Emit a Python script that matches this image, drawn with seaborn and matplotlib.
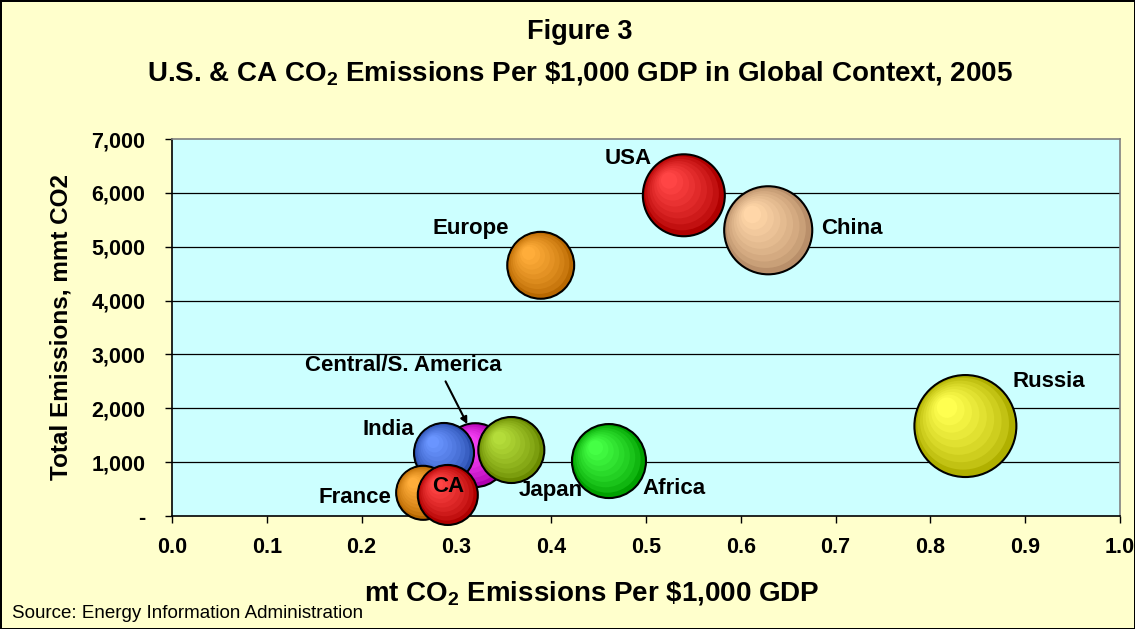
import matplotlib
matplotlib.use("Agg")
import matplotlib.pyplot as plt
import matplotlib.transforms as mtransforms
from matplotlib.colors import to_rgb
import numpy as np
import pandas as pd
import seaborn as sns

# data (draw order = list order)
regions = ["USA", "China", "Europe", "Russia", "Africa", "Central/S. America",
           "India", "Japan", "France", "CA"]
co2_per_gdp = [0.540, 0.629, 0.389, 0.837, 0.461, 0.320, 0.287, 0.358, 0.265, 0.291]
total_emissions = [5955, 5305, 4655, 1670, 1020, 1130, 1170, 1225, 430, 390]
bubble_size = [16.8, 19.4, 11.2, 26.0, 13.7, 10.2, 9.0, 10.9, 7.3, 9.0]

x_ticks = [0.0, 0.1, 0.2, 0.3, 0.4, 0.5, 0.6, 0.7, 0.8, 0.9, 1.0]
y_ticks = [0, 1000, 2000, 3000, 4000, 5000, 6000, 7000]

# styling: (dark rim, light highlight) per bubble
shades = {
    "USA": ("#b00000", "#ff4545"),
    "China": ("#b98f6a", "#ffd6a8"),
    "Europe": ("#b86800", "#ffad3a"),
    "Russia": ("#b0b000", "#ffff50"),
    "Africa": ("#00a000", "#45ff45"),
    "Central/S. America": ("#b000b0", "#ff4aff"),
    "India": ("#2a4fb0", "#6a95ff"),
    "Japan": ("#6a8a00", "#b4dc3a"),
    "France": ("#b86800", "#ffad3a"),
    "CA": ("#b00000", "#ff4545"),
}
# label offsets in pixels from bubble centre (y up)
label_offsets = {
    "USA": (-56, 37), "China": (84, 2), "Europe": (-70, 37), "Russia": (83, 45),
    "Africa": (65, -27), "India": (-56, 23), "Japan": (39, -40),
    "France": (-68, -5), "CA": (0, 8),
}

sns.set_style("ticks")
plt.rcParams["font.family"] = ["Liberation Sans", "DejaVu Sans"]
plt.rcParams["mathtext.fontset"] = "custom"
plt.rcParams["mathtext.rm"] = "Liberation Sans:bold"
plt.rcParams["mathtext.it"] = "Liberation Sans:bold"
plt.rcParams["mathtext.bf"] = "Liberation Sans:bold"
for key in ["text.color", "axes.labelcolor", "xtick.color", "ytick.color"]:
    plt.rcParams[key] = "black"

fig = plt.figure(figsize=(11.35, 6.29), dpi=100, facecolor="#ffffcc")
fig.patch.set_edgecolor("black")
fig.patch.set_linewidth(2)
ax = fig.add_axes([0.1515, 0.1797, 0.8352, 0.5993])
ax.set_facecolor("#ccffff")
ax.set_xlim(0, 1)
ax.set_ylim(0, 7000)

# pixel -> data scale for the highlight shift
px_x = 1.0 / (ax.get_position().width * fig.get_figwidth() * fig.dpi)
px_y = 7000.0 / (ax.get_position().height * fig.get_figheight() * fig.dpi)

pt2_per_unit = 207.36  # marker area (pt^2) per bubble size unit
n_layers = 9
rows = []
for i, name in enumerate(regions):
    dark, light = np.array(to_rgb(shades[name][0])), np.array(to_rgb(shades[name][1]))
    area = bubble_size[i] * pt2_per_unit
    r_px = np.sqrt(area) / 2 / 0.72
    for k in range(n_layers):
        t = k / (n_layers - 1)
        f = 1 - 0.8 * t
        col = dark + (light - dark) * (t ** 0.7)
        rows.append({
            "key": f"{name}-{k}",
            "x": co2_per_gdp[i] - (1 - f) * 0.45 * r_px * px_x,
            "y": total_emissions[i] + (1 - f) * 0.45 * r_px * px_y,
            "s": area * f * f,
            "color": tuple(col),
            "edge": "black" if k == 0 else "none",
            "lw": 1.5 if k == 0 else 0,
        })
layers = pd.DataFrame(rows)

smax = layers["s"].max()
sns.scatterplot(data=layers, x="x", y="y", hue="key", size="s",
                palette=dict(zip(layers["key"], layers["color"])),
                sizes=(0, smax), size_norm=(0, smax),
                edgecolor=list(layers["edge"]), linewidth=list(layers["lw"]),
                legend=False, ax=ax, zorder=3, clip_on=False)

ax.set_yticks(y_ticks)
ax.set_yticklabels(["-" if v == 0 else f"{v:,}" for v in y_ticks])
ax.set_xticks(x_ticks)
ax.set_xticklabels([f"{v:.1f}" for v in x_ticks])
ax.set_xlim(0, 1)
ax.set_ylim(0, 7000)
for v in y_ticks[1:-1]:
    ax.axhline(v, color="black", lw=0.9, zorder=1)
ax.tick_params(axis="both", direction="out", length=5, width=1, color="black",
               labelsize=15.5, pad=14)
for lab in ax.get_xticklabels() + ax.get_yticklabels():
    lab.set_fontweight("bold")
ax.tick_params(axis="x", pad=10)
for side in ["left", "bottom"]:
    ax.spines[side].set_color("black")
    ax.spines[side].set_linewidth(1.2)
for side in ["top", "right"]:
    ax.spines[side].set_visible(True)
    ax.spines[side].set_color("#808080")
    ax.spines[side].set_linewidth(1.2)

ax.set_xlabel("")
ax.set_ylabel("Total Emissions, mmt CO2", fontsize=17.5, fontweight="bold", labelpad=14)

# bubble labels
for i, name in enumerate(regions):
    if name in label_offsets:
        ax.annotate(name, (co2_per_gdp[i], total_emissions[i]),
                    xytext=label_offsets[name], textcoords="offset pixels",
                    ha="center", va="center", fontsize=16, fontweight="bold",
                    zorder=10)
i = regions.index("Central/S. America")
tip = mtransforms.offset_copy(ax.transData, fig=fig, x=-8, y=31, units="dots")
ax.annotate("Central/S. America", (co2_per_gdp[i], total_emissions[i]), xycoords=tip,
            xytext=(-64, 59), textcoords="offset pixels", ha="center", va="center",
            fontsize=16, fontweight="bold", zorder=10,
            arrowprops=dict(arrowstyle="-|>", color="black", lw=1.5, shrinkA=2,
                            shrinkB=0, relpos=(0.7, 0), mutation_scale=10))

fig.text(0.511, 1 - 32 / 629, "Figure 3", ha="center", va="center",
         fontsize=19.5, fontweight="bold")
fig.text(0.511, 1 - 73 / 629,
         r"U.S. & CA CO$_{2}$ Emissions Per \$1,000 GDP in Global Context, 2005",
         ha="center", va="center", fontsize=20, fontweight="bold")
fig.text(0.5215, 1 - 593 / 629, r"mt CO$_{2}$ Emissions Per \$1,000 GDP",
         ha="center", va="center", fontsize=20, fontweight="bold")
fig.text(0.011, 1 - 613 / 629, "Source: Energy Information Administration",
         ha="left", va="center", fontsize=13.5)

fig.savefig("out.png", dpi=100, facecolor=fig.get_facecolor(),
            edgecolor=fig.patch.get_edgecolor())
